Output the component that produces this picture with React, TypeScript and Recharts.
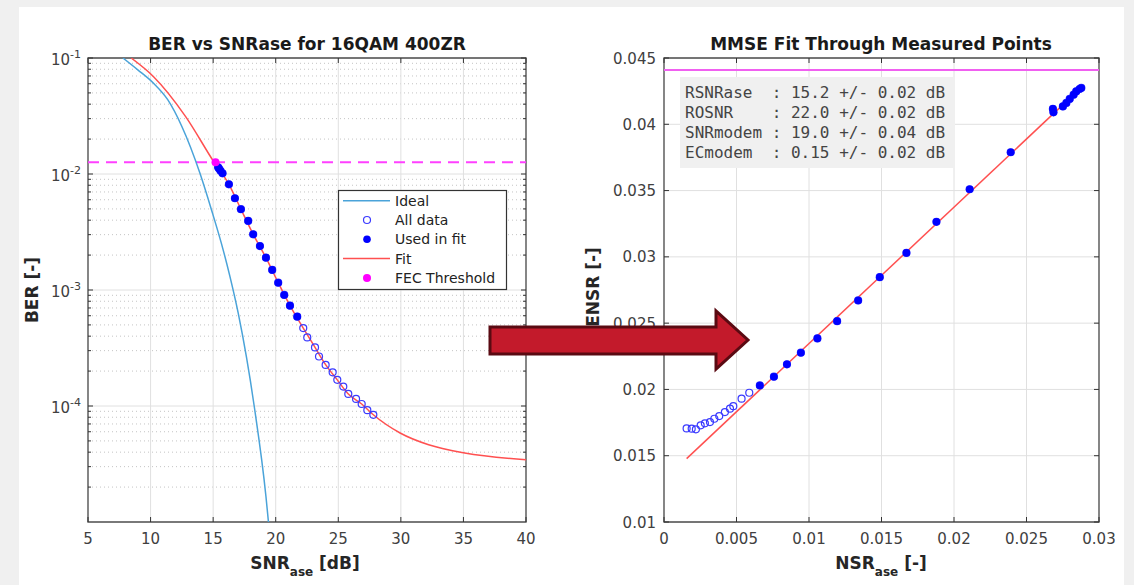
import React from 'react';
import {
  ComposedChart,
  Line,
  Scatter,
  XAxis,
  YAxis,
  CartesianGrid,
  ReferenceLine,
  ReferenceArea,
} from 'recharts';

const FONT = '"DejaVu Sans", Verdana, sans-serif';
const MONO = '"DejaVu Sans Mono", monospace';

// ---------------- Left panel: BER vs SNRase ----------------
const snrTicks = [5, 10, 15, 20, 25, 30, 35, 40];
const berTicks = [1e-4, 1e-3, 1e-2, 1e-1];
const berMinorGrid = [
  2e-5, 3e-5, 4e-5, 5e-5, 6e-5, 7e-5, 8e-5, 9e-5,
  2e-4, 3e-4, 4e-4, 5e-4, 6e-4, 7e-4, 8e-4, 9e-4,
  2e-3, 3e-3, 4e-3, 5e-3, 6e-3, 7e-3, 8e-3, 9e-3,
  2e-2, 3e-2, 4e-2, 5e-2, 6e-2, 7e-2, 8e-2, 9e-2,
];

const idealSnr = [7.79, 8.98, 10.22, 11.37, 12.5, 13.94, 14.87, 15.8, 16.34, 17.0, 18.28, 19.22, 19.42];
const idealBer = [0.1, 0.079, 0.0608, 0.0437, 0.0257, 0.0102, 0.0049, 0.00222, 0.00131, 0.000634, 0.0001, 0.0000166, 0.00001];

const fitSnr = [8.45, 10.22, 12.79, 15.08, 16.26, 17.22, 18.2, 19.22, 20.2, 21.14, 22.2, 23.14, 24.0, 24.92, 25.8, 26.87, 27.8, 29.94, 32.22, 35.1, 40];
const fitBer = [0.1, 0.0693, 0.0314, 0.0126, 0.00815, 0.00497, 0.00302, 0.0019, 0.001156, 0.000733, 0.00047, 0.00032, 0.000226, 0.000168, 0.000127, 0.000104, 0.000084, 0.0000585, 0.0000463, 0.0000393, 0.0000344];

const usedSnr = [15.4, 15.48, 15.59, 15.75, 16.26, 16.74, 17.22, 17.8, 18.2, 18.74, 19.22, 19.72, 20.2, 20.68, 21.14, 21.72];
const usedBer = [0.01143, 0.0111, 0.01067, 0.01014, 0.00815, 0.00618, 0.00497, 0.00394, 0.00302, 0.00239, 0.0019, 0.00149, 0.001156, 0.000906, 0.000733, 0.000589];

const unusedSnr = [22.2, 22.52, 23.14, 23.46, 23.99, 24.55, 24.92, 25.4, 25.8, 26.42, 26.87, 27.32, 27.8];
const unusedBer = [0.00047, 0.00039, 0.00032, 0.000267, 0.000226, 0.000195, 0.000168, 0.000147, 0.000127, 0.000115, 0.000104, 0.000092, 0.000084];

const fecSnr = [15.19];
const fecBer = [0.0126];
const FEC_BER = 0.0126;

// ---------------- Right panel: ENSR vs NSRase ----------------
const nsrTicks = [0, 0.005, 0.01, 0.015, 0.02, 0.025, 0.03];
const ensrTicks = [0.01, 0.015, 0.02, 0.025, 0.03, 0.035, 0.04, 0.045];

const usedNsr = [0.00661, 0.00758, 0.00848, 0.00944, 0.01058, 0.01194, 0.01339, 0.01488, 0.01672, 0.01879, 0.02108, 0.02391, 0.02682, 0.02686, 0.02751, 0.02775, 0.02798, 0.02825, 0.02843, 0.02866, 0.02878];
const usedEnsr = [0.0203, 0.02096, 0.02189, 0.02277, 0.02385, 0.02515, 0.02671, 0.02847, 0.0303, 0.03264, 0.0351, 0.03789, 0.04116, 0.0409, 0.04135, 0.04161, 0.04191, 0.04223, 0.04248, 0.04266, 0.04274];

const unusedNsr = [0.00156, 0.00191, 0.0022, 0.00253, 0.00282, 0.00317, 0.00347, 0.00381, 0.0042, 0.00455, 0.00478, 0.00535, 0.00588];
const unusedEnsr = [0.01706, 0.01704, 0.01699, 0.01729, 0.01744, 0.01754, 0.01779, 0.01799, 0.01829, 0.01855, 0.01874, 0.0193, 0.01975];

const fitNsr = [0.00156, 0.0288];
const fitEnsr = [0.01478, 0.0428];
const ENSR_TH = 0.0441;

const infoLines = [
  'RSNRase  : 15.2 +/- 0.02 dB',
  'ROSNR    : 22.0 +/- 0.02 dB',
  'SNRmodem : 19.0 +/- 0.04 dB',
  'ECmodem  : 0.15 +/- 0.02 dB',
];

const legendItems = ['Ideal', 'All data', 'Used in fit', 'Fit', 'FEC Threshold'];

const zip = (xs: number[], ys: number[]) => xs.map((x, i) => ({ x, y: ys[i] }));

const idealData = zip(idealSnr, idealBer);
const fitData = zip(fitSnr, fitBer);
const usedData = zip(usedSnr, usedBer);
const allDataL = zip([...usedSnr, ...unusedSnr], [...usedBer, ...unusedBer]);
const fecData = zip(fecSnr, fecBer);

const usedDataR = zip(usedNsr, usedEnsr);
const allDataR = zip([...usedNsr, ...unusedNsr], [...usedEnsr, ...unusedEnsr]);
const fitDataR = zip(fitNsr, fitEnsr);

const TICK_COLOR = '#404040';
const TICK_MARK = '#333333';
const BLUE_LINE = '#4aa3d9';
const RED_LINE = '#ff5050';
const MAGENTA = '#ff40ff';

// plot-area sizes (layout)
const PLOT_H = 464;
const LEFT_W = 438;
const RIGHT_W = 435;

const OpenCircle = (p: any) =>
  p.cx == null ? null : (
    <circle cx={p.cx} cy={p.cy} r={3.5} fill="none" stroke="#3a3aff" strokeWidth={1.2} />
  );
const FilledDot = (p: any) =>
  p.cx == null ? null : <circle cx={p.cx} cy={p.cy} r={3.8} fill="#0000ff" />;
const MagentaDot = (p: any) =>
  p.cx == null ? null : <circle cx={p.cx} cy={p.cy} r={4} fill="#ff00ff" />;

const isDecade = (v: number) => Math.abs(Math.log10(v) - Math.round(Math.log10(v))) < 1e-6;

const LogTick = (props: any) => {
  const { x, y, payload } = props;
  const v = payload.value;
  const major = isDecade(v);
  const len = major ? 5 : 3;
  return (
    <g>
      <line x1={x} x2={x + len} y1={y} y2={y} stroke={TICK_MARK} strokeWidth={1} />
      <line x1={x + LEFT_W} x2={x + LEFT_W - len} y1={y} y2={y} stroke={TICK_MARK} strokeWidth={1} />
      {major && (
        <text x={x - 7} y={y + 7} textAnchor="end" fontFamily={FONT} fontSize={15} fill={TICK_COLOR}>
          10
          <tspan dy={-7} fontSize={11}>
            {Math.round(Math.log10(v))}
          </tspan>
        </text>
      )}
    </g>
  );
};

const XTick = (props: any) => {
  const { x, y, payload } = props;
  return (
    <g>
      <line x1={x} x2={x} y1={y} y2={y - 5} stroke={TICK_MARK} strokeWidth={1} />
      <line x1={x} x2={x} y1={y - PLOT_H} y2={y - PLOT_H + 5} stroke={TICK_MARK} strokeWidth={1} />
      <text x={x} y={y + 22} textAnchor="middle" fontFamily={FONT} fontSize={15} fill={TICK_COLOR}>
        {String(payload.value)}
      </text>
    </g>
  );
};

const YTickLin = (props: any) => {
  const { x, y, payload } = props;
  return (
    <g>
      <line x1={x} x2={x + 5} y1={y} y2={y} stroke={TICK_MARK} strokeWidth={1} />
      <line x1={x + RIGHT_W} x2={x + RIGHT_W - 5} y1={y} y2={y} stroke={TICK_MARK} strokeWidth={1} />
      <text x={x - 8} y={y + 5.5} textAnchor="end" fontFamily={FONT} fontSize={15} fill={TICK_COLOR}>
        {String(payload.value)}
      </text>
    </g>
  );
};

export default function App() {
  return (
    <div
      style={{
        position: 'absolute',
        left: 0,
        top: 0,
        width: 1134,
        height: 585,
        background: '#f0f0f0',
        overflow: 'hidden',
      }}
    >
      <div style={{ position: 'absolute', left: 19, top: 7, width: 1105, height: 578, background: '#ffffff' }} />

      {/* Left chart */}
      <div style={{ position: 'absolute', left: 0, top: 0 }}>
        <ComposedChart width={560} height={585} margin={{ top: 58, right: 34, bottom: 33, left: 28 }}>
          <CartesianGrid vertical={false} horizontalValues={berMinorGrid} stroke="#c4c4c4" strokeDasharray="1 3" />
          <CartesianGrid horizontalValues={berTicks} stroke="#e0e0e0" />
          <XAxis
            type="number"
            dataKey="x"
            domain={[5, 40]}
            ticks={snrTicks}
            interval={0}
            height={30}
            tickSize={0}
            tickMargin={0}
            axisLine={false}
            tickLine={false}
            tick={<XTick />}
          />
          <YAxis
            type="number"
            dataKey="y"
            scale="log"
            domain={[1e-5, 0.1]}
            allowDataOverflow
            ticks={[...berMinorGrid, ...berTicks]}
            interval={0}
            width={60}
            tickSize={0}
            tickMargin={0}
            axisLine={false}
            tickLine={false}
            tick={<LogTick />}
          />
          <ReferenceLine y={FEC_BER} stroke={MAGENTA} strokeWidth={2} strokeDasharray="11 7" />
          <Line data={idealData} dataKey="y" type="monotone" stroke={BLUE_LINE} strokeWidth={1.5} dot={false} isAnimationActive={false} />
          <Line data={fitData} dataKey="y" type="monotone" stroke={RED_LINE} strokeWidth={1.5} dot={false} isAnimationActive={false} />
          <Scatter data={allDataL} dataKey="y" shape={<OpenCircle />} isAnimationActive={false} />
          <Scatter data={usedData} dataKey="y" shape={<FilledDot />} isAnimationActive={false} />
          <Scatter data={fecData} dataKey="y" shape={<MagentaDot />} isAnimationActive={false} />
          <ReferenceArea x1={5} x2={40} y1={1e-5} y2={0.1} fill="none" stroke="#4d4d4d" strokeWidth={1.3} />
        </ComposedChart>
      </div>

      {/* Right chart */}
      <div style={{ position: 'absolute', left: 560, top: 0 }}>
        <ComposedChart width={574} height={585} margin={{ top: 58, right: 35, bottom: 33, left: 34 }}>
          <CartesianGrid stroke="#e0e0e0" />
          <XAxis
            type="number"
            dataKey="x"
            domain={[0, 0.03]}
            ticks={nsrTicks}
            interval={0}
            height={30}
            tickSize={0}
            tickMargin={0}
            axisLine={false}
            tickLine={false}
            tick={<XTick />}
          />
          <YAxis
            type="number"
            dataKey="y"
            domain={[0.01, 0.045]}
            allowDataOverflow
            ticks={ensrTicks}
            interval={0}
            width={70}
            tickSize={0}
            tickMargin={0}
            axisLine={false}
            tickLine={false}
            tick={<YTickLin />}
          />
          <ReferenceLine y={ENSR_TH} stroke="#f060f0" strokeWidth={2} />
          <Line data={fitDataR} dataKey="y" type="linear" stroke={RED_LINE} strokeWidth={1.5} dot={false} isAnimationActive={false} />
          <Scatter data={allDataR} dataKey="y" shape={<OpenCircle />} isAnimationActive={false} />
          <Scatter data={usedDataR} dataKey="y" shape={<FilledDot />} isAnimationActive={false} />
          <ReferenceArea x1={0} x2={0.03} y1={0.01} y2={0.045} fill="none" stroke="#4d4d4d" strokeWidth={1.3} />
        </ComposedChart>
      </div>

      {/* Overlay: titles, labels, legend, info box, arrow */}
      <svg
        width={1134}
        height={585}
        style={{ position: 'absolute', left: 0, top: 0, pointerEvents: 'none' }}
      >
        <text x={307} y={50} textAnchor="middle" fontFamily={FONT} fontWeight="bold" fontSize={17} fill="#1a1a1a">
          BER vs SNRase for 16QAM 400ZR
        </text>
        <text x={881} y={50} textAnchor="middle" fontFamily={FONT} fontWeight="bold" fontSize={17} fill="#1a1a1a">
          MMSE Fit Through Measured Points
        </text>

        <text x={305} y={569} textAnchor="middle" fontFamily={FONT} fontWeight="bold" fontSize={17} fill="#262626">
          SNR
          <tspan dy={7} fontSize={12}>ase</tspan>
          <tspan dy={-7}> [dB]</tspan>
        </text>
        <text x={881} y={569} textAnchor="middle" fontFamily={FONT} fontWeight="bold" fontSize={17} fill="#262626">
          NSR
          <tspan dy={7} fontSize={12}>ase</tspan>
          <tspan dy={-7}> [-]</tspan>
        </text>
        <text
          transform="translate(38,290) rotate(-90)"
          textAnchor="middle"
          fontFamily={FONT}
          fontWeight="bold"
          fontSize={17}
          fill="#262626"
        >
          BER [-]
        </text>
        <text
          transform="translate(599,287) rotate(-90)"
          textAnchor="middle"
          fontFamily={FONT}
          fontWeight="bold"
          fontSize={17}
          fill="#262626"
        >
          ENSR [-]
        </text>

        {/* Legend */}
        <rect x={338.5} y={190.5} width={168} height={99} fill="#ffffff" stroke="#333333" strokeWidth={1.2} />
        {legendItems.map((label, i) => {
          const cy = 200.7 + i * 19.3;
          return (
            <g key={label}>
              {i === 0 && <line x1={343} x2={390} y1={cy} y2={cy} stroke={BLUE_LINE} strokeWidth={1.5} />}
              {i === 1 && <circle cx={367} cy={cy} r={3.5} fill="none" stroke="#3a3aff" strokeWidth={1.2} />}
              {i === 2 && <circle cx={367} cy={cy} r={3.8} fill="#0000ff" />}
              {i === 3 && <line x1={343} x2={390} y1={cy} y2={cy} stroke={RED_LINE} strokeWidth={1.5} />}
              {i === 4 && <circle cx={367} cy={cy} r={4} fill="#ff00ff" />}
              <text x={395} y={cy + 5} fontFamily={FONT} fontSize={14} fill="#222">
                {label}
              </text>
            </g>
          );
        })}

        {/* Info box */}
        <rect x={680} y={77} width={275} height={91} fill="#f0f0f0" />
        {infoLines.map((line, i) => (
          <text
            key={i}
            x={685}
            y={97.5 + i * 20}
            fontFamily={MONO}
            fontSize={16}
            fill="#444444"
            style={{ whiteSpace: 'pre' }}
          >
            {line}
          </text>
        ))}

        {/* Arrow */}
        <polygon
          points="490,327 716,327 716,311 748,340 716,369 716,354 490,354"
          fill="#c31a2b"
          stroke="#5a0a12"
          strokeWidth={3}
          strokeLinejoin="miter"
        />
      </svg>
    </div>
  );
}
